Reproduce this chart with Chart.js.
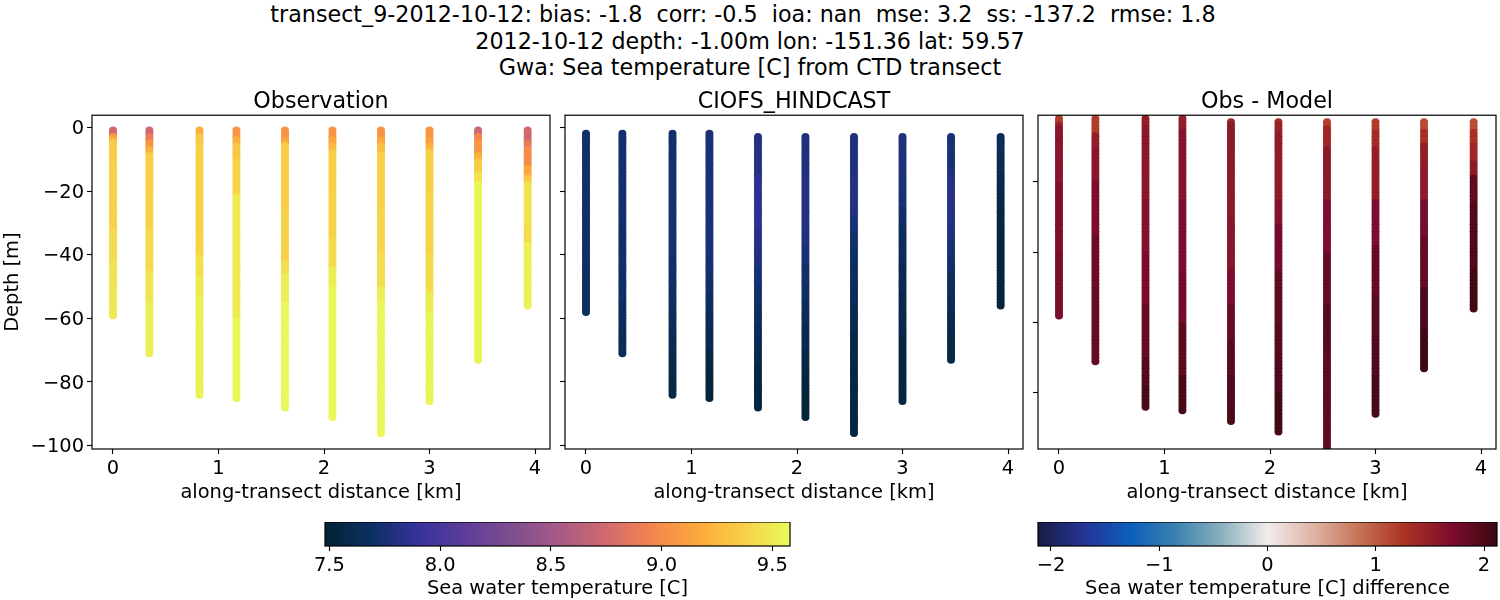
<!DOCTYPE html>
<html><head><meta charset="utf-8">
<script src="https://cdn.jsdelivr.net/npm/chart.js@4"></script>
<style>
html,body{margin:0;padding:0;background:#fff;width:1500px;height:600px;overflow:hidden}
canvas{position:absolute}
#sup{position:absolute;left:0;width:1500px;top:1px;text-align:center;font:22.22px/26.6px "DejaVu Sans";color:#000;white-space:pre}
</style></head><body>
<div id="sup">transect_9-2012-10-12: bias: -1.8  corr: -0.5  ioa: nan  mse: 3.2  ss: -137.2  rmse: 1.8  
2012-10-12 depth: -1.00m lon: -151.36 lat: 59.57
Gwa: Sea temperature [C] from CTD transect</div>
<canvas id="p1"></canvas><canvas id="p2"></canvas><canvas id="p3"></canvas>
<canvas id="cb1"></canvas><canvas id="cb2"></canvas>
<script>
const distanceKm=[0,0.345,0.82,1.17,1.63,2.08,2.54,3.0,3.46,3.93];
const obsTop=[1,1,1,1,1,1,1,1,1,1];
const modelTop=[2,2,2,2,3,3,3,3,3,3];
const diffTop=[2,2,2,2,3,3,3,3,3,3];
const obsBands=[
[[8.74,2],[9.08,3],[9.2,4],[9.35,10],[9.38,32],[9.42,42],[9.46,50],[9.49,59]],
[[8.74,2],[8.88,4],[9.05,6],[9.2,8],[9.36,20],[9.38,32],[9.42,45],[9.47,55],[9.52,71]],
[[9.2,2],[9.32,5],[9.37,32],[9.39,40],[9.45,47],[9.5,54],[9.54,84]],
[[9.05,3],[9.2,5],[9.32,10],[9.38,21],[9.5,60],[9.56,85]],
[[9.05,3],[9.1,4],[9.2,5],[9.36,25],[9.38,42],[9.45,46],[9.52,55],[9.57,88]],
[[9.05,3],[9.15,5],[9.25,7],[9.36,20],[9.39,35],[9.42,44],[9.52,50],[9.56,91]],
[[9.05,3],[9.15,5],[9.28,8],[9.37,25],[9.4,40],[9.44,50],[9.52,54],[9.56,96]],
[[9.05,3],[9.1,5],[9.2,7],[9.36,20],[9.39,40],[9.42,52],[9.5,58],[9.55,86]],
[[8.74,2],[8.95,4],[9.05,8],[9.2,10],[9.35,14],[9.45,17],[9.55,73]],
[[8.74,4],[8.88,6],[9.0,12],[9.15,15],[9.32,17],[9.45,32],[9.42,36],[9.53,56]]];
const modelBands=[
[[7.71,30],[7.7,45],[7.67,58]],
[[7.72,30],[7.71,45],[7.69,55],[7.66,63],[7.63,71]],
[[7.72,40],[7.7,50],[7.67,57],[7.64,64],[7.61,71],[7.58,78],[7.56,84]],
[[7.76,40],[7.74,46],[7.71,52],[7.67,58],[7.63,64],[7.59,70],[7.55,77],[7.52,85]],
[[7.8,15],[7.86,32],[7.83,38],[7.79,44],[7.75,50],[7.71,56],[7.67,62],[7.63,68],[7.59,74],[7.55,80],[7.52,88]],
[[7.78,15],[7.82,32],[7.79,37],[7.75,43],[7.71,49],[7.68,55],[7.64,62],[7.6,70],[7.56,76],[7.53,83],[7.5,91]],
[[7.78,15],[7.8,28],[7.76,33],[7.72,38],[7.69,44],[7.66,50],[7.63,56],[7.6,64],[7.57,75],[7.55,85],[7.54,96]],
[[7.78,15],[7.76,25],[7.71,30],[7.67,35],[7.64,43],[7.61,52],[7.58,65],[7.55,86]],
[[7.76,15],[7.82,30],[7.78,35],[7.74,40],[7.7,46],[7.66,52],[7.63,58],[7.6,64],[7.57,73]],
[[7.64,8],[7.62,14],[7.6,20],[7.57,26],[7.54,34],[7.52,56]]];
const diffBands=[
[[1.2,3],[1.45,4],[1.6,20],[1.68,40],[1.72,58]],
[[1.2,6],[1.5,10],[1.6,20],[1.7,35],[1.8,50],[1.85,71]],
[[1.5,4],[1.58,25],[1.65,40],[1.72,55],[1.85,70],[1.95,78],[2.05,84]],
[[1.5,5],[1.62,25],[1.7,45],[1.75,60],[1.9,75],[2.05,85]],
[[1.4,3],[1.55,30],[1.6,45],[1.72,55],[1.85,65],[1.93,75],[2.0,85],[2.05,88]],
[[1.35,3],[1.45,6],[1.52,25],[1.62,32],[1.75,45],[1.88,60],[1.95,70],[2.0,80],[2.08,91]],
[[1.2,4],[1.4,10],[1.55,25],[1.7,40],[1.85,55],[1.95,68],[1.9,96]],
[[1.2,5],[1.35,10],[1.5,25],[1.7,38],[1.85,52],[1.95,65],[2.0,75],[2.05,86]],
[[1.1,5],[1.3,9],[1.5,15],[1.55,25],[1.75,35],[1.85,50],[2.0,62],[2.1,73]],
[[1.1,5],[1.3,9],[1.4,14],[1.55,18],[1.88,26],[2.0,45],[2.08,56]]];
const thermal=[[3,35,51],[13,48,100],[53,50,155],[93,62,153],[126,77,143],[165,90,135],[207,105,112],[243,132,78],[252,168,60],[248,208,72],[232,250,91]];
const balance=[[24,28,67],[37,52,148],[12,94,190],[58,130,175],[139,176,190],[241,236,235],[222,180,165],[198,115,85],[172,50,35],[125,13,45],[60,9,18]];
const tempRange=[7.48,9.58], diffRange=[-2.12,2.12];
const xTicks=[0,1,2,3,4];
const tickFont={family:'DejaVu Sans',size:19.44};
Chart.defaults.devicePixelRatio=1;
function cmap(stops,t){t=Math.max(0,Math.min(1,t))*(stops.length-1);const i=Math.min(Math.floor(t),stops.length-2),f=t-i;
  const c=stops[i].map((a,k)=>Math.round(a+(stops[i+1][k]-a)*f));return `rgb(${c[0]},${c[1]},${c[2]})`;}
function expand(bands,tops){const pts=[];bands.forEach((cast,i)=>{let d=tops[i];cast.forEach(([v,last])=>{for(;d<=last;d++)pts.push({x:distanceKm[i],y:-d,v});});});return pts;}
const frame={id:'frame',afterDraw(c){const a=c.chartArea,g=c.ctx;g.save();g.strokeStyle='#000';g.lineWidth=1.2;g.strokeRect(a.left,a.top,a.right-a.left,a.bottom-a.top);g.restore();}};
function minus(v){return String(v).replace('-','\u2212');}
function panel(id,left,title,pts,stops,range,yr,showY,yTitle){
  const el=document.getElementById(id),cl=left-(showY?92:15),W=(left+458+10)-cl;
  el.style.left=cl+'px';el.style.top='84px';
  el.width=W;el.height=422;el.style.width=W+'px';el.style.height='422px';
  new Chart(el,{type:'scatter',plugins:[frame],
    data:{datasets:[{data:pts,pointRadius:4,pointHoverRadius:4,borderWidth:0,pointBorderWidth:0,clip:0,
      backgroundColor:c=>cmap(stops,(c.raw.v-range[0])/(range[1]-range[0])),
      pointBackgroundColor:c=>cmap(stops,(c.raw.v-range[0])/(range[1]-range[0]))}]},
    options:{responsive:false,animation:false,events:[],
      layout:{padding:{left:0,right:10,top:0,bottom:0}},
      plugins:{legend:{display:false},tooltip:{enabled:false},
        title:{display:true,fullSize:false,text:title,color:'#000',font:{family:'DejaVu Sans',size:22.22,weight:'normal',lineHeight:1},padding:{top:7,bottom:2}}},
      scales:{
        x:{type:'linear',min:-0.199,max:4.142,afterFit(s){s.height=57;},
          afterBuildTicks(s){s.ticks=xTicks.map(value=>({value}));},
          grid:{display:true,drawOnChartArea:false,drawTicks:true,tickLength:5,tickColor:'#000',tickWidth:1.1},
          border:{display:false},
          ticks:{font:tickFont,color:'#000',padding:3,maxRotation:0,autoSkip:false,callback:v=>minus(v)},
          title:{display:true,text:'along-transect distance [km]',color:'#000',font:tickFont,padding:{top:0,bottom:1}}},
        y:{type:'linear',min:yr[0],max:yr[1],afterFit(s){s.width=left-cl;},
          grid:{display:true,drawOnChartArea:false,drawTicks:true,tickLength:5,tickColor:'#000',tickWidth:1.1},
          border:{display:false},
          ticks:{stepSize:20,includeBounds:false,font:tickFont,color:'#000',padding:3,labelOffset:1.5,autoSkip:false,callback:v=>showY?minus(v):''},
          title:{display:yTitle,text:'Depth [m]',color:'#000',font:tickFont,padding:{top:1,bottom:0}}}
      }}});
}
function colorbar(id,left,width,stops,range,ticks,label,fmt){
  const el=document.getElementById(id),pad=20,cl=left-pad,W=width+pad*2;
  el.style.left=cl+'px';el.style.top='522px';el.width=W;el.height=78;el.style.width=W+'px';el.style.height='78px';
  const ramp={id:'ramp',beforeDatasetsDraw(c){const a=c.chartArea,g=c.ctx,s=c.scales.x,n=stops.length-1;
    const gr=g.createLinearGradient(s.getPixelForValue(range[0]),0,s.getPixelForValue(range[1]),0);
    stops.forEach((q,i)=>gr.addColorStop(i/n,`rgb(${q[0]},${q[1]},${q[2]})`));
    g.save();g.fillStyle=gr;g.fillRect(a.left,a.top,a.right-a.left,a.bottom-a.top);g.restore();}};
  new Chart(el,{type:'scatter',plugins:[ramp,frame],data:{datasets:[{data:[]}]},
    options:{responsive:false,animation:false,events:[],
      layout:{padding:{left:0,right:pad,top:0,bottom:0}},
      plugins:{legend:{display:false},tooltip:{enabled:false}},
      scales:{
        x:{type:'linear',min:range[0],max:range[1],afterFit(s){s.height=54;},
          afterBuildTicks(s){s.ticks=ticks.map(value=>({value}));},
          grid:{display:true,drawOnChartArea:false,drawTicks:true,tickLength:5,tickColor:'#000',tickWidth:1.1},
          border:{display:false},
          ticks:{font:tickFont,color:'#000',padding:3,maxRotation:0,autoSkip:false,callback:fmt},
          title:{display:true,text:label,color:'#000',font:tickFont,padding:{top:0,bottom:-1}}},
        y:{display:true,min:0,max:1,afterFit(s){s.width=pad;},grid:{display:false},border:{display:false},ticks:{display:false},title:{display:false}}
      }}});
}
panel('p1',92,'Observation',expand(obsBands,obsTop),thermal,tempRange,[-101.06,3.84],true,true);
panel('p2',565,'CIOFS_HINDCAST',expand(modelBands,modelTop),thermal,tempRange,[-101.06,3.84],false,false);
panel('p3',1038,'Obs - Model',expand(diffBands,diffTop),balance,diffRange,[-96,-1],false,false);
const tempTicks=[7.5,8,8.5,9,9.5], diffTicks=[-2,-1,0,1,2];
colorbar('cb1',325,465,thermal,tempRange,tempTicks,'Sea water temperature [C]',v=>v.toFixed(1));
colorbar('cb2',1038,459,balance,diffRange,diffTicks,'Sea water temperature [C] difference',v=>minus(v));
</script>
</body></html>
